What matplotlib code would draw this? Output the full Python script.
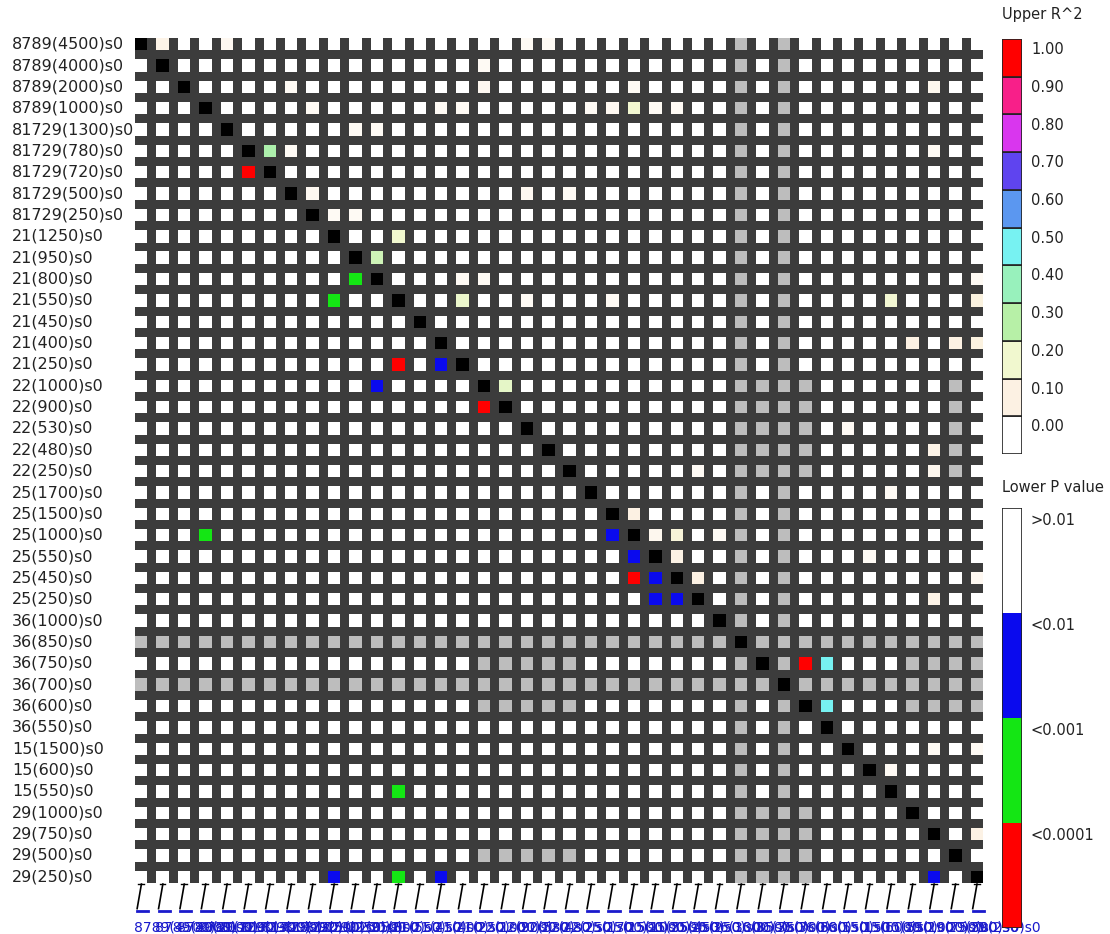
import matplotlib
matplotlib.use('Agg')  # no display in the sandbox
import matplotlib.pyplot as plt
from matplotlib.patches import Rectangle
from matplotlib.collections import PatchCollection
from matplotlib.colors import LinearSegmentedColormap
from matplotlib import transforms

# Marker names (rows top to bottom, columns left to right)
markers = [
    '8789(4500)s0', '8789(4000)s0', '8789(2000)s0', '8789(1000)s0',
    '81729(1300)s0', '81729(780)s0', '81729(720)s0', '81729(500)s0', '81729(250)s0',
    '21(1250)s0', '21(950)s0', '21(800)s0', '21(550)s0', '21(450)s0', '21(400)s0', '21(250)s0',
    '22(1000)s0', '22(900)s0', '22(530)s0', '22(480)s0', '22(250)s0',
    '25(1700)s0', '25(1500)s0', '25(1000)s0', '25(550)s0', '25(450)s0', '25(250)s0',
    '36(1000)s0', '36(850)s0', '36(750)s0', '36(700)s0', '36(600)s0', '36(550)s0',
    '15(1500)s0', '15(600)s0', '15(550)s0',
    '29(1000)s0', '29(750)s0', '29(500)s0', '29(250)s0',
]

# Upper triangle: R^2 values that stand out (row, col, r2)
r2_cells = [
    (5, 6, 0.33), (9, 12, 0.20), (10, 11, 0.26), (12, 15, 0.21), (16, 17, 0.22),
    (3, 23, 0.19), (12, 35, 0.18), (29, 31, 1.00), (29, 32, 0.50), (31, 32, 0.50),
    (23, 25, 0.15), (22, 23, 0.10), (24, 25, 0.09), (25, 26, 0.10),
    (14, 36, 0.10), (14, 38, 0.10), (14, 39, 0.11), (12, 39, 0.12),
    (0, 1, 0.08), (19, 37, 0.08), (26, 37, 0.08), (37, 39, 0.09), (20, 37, 0.06),
]

# Upper triangle: faint R^2 (row, col, r2)
r2_faint = [
    (0, 4, 0.05), (2, 7, 0.04), (3, 8, 0.04), (4, 10, 0.04), (4, 11, 0.04),
    (5, 7, 0.04), (7, 8, 0.05), (8, 9, 0.04), (8, 10, 0.04), (0, 18, 0.04),
    (0, 19, 0.04), (1, 16, 0.04), (2, 16, 0.05), (2, 23, 0.04), (3, 14, 0.04),
    (3, 15, 0.04), (3, 21, 0.04), (3, 22, 0.05), (3, 24, 0.04), (3, 25, 0.04),
    (7, 18, 0.05), (7, 20, 0.04), (11, 15, 0.04), (11, 16, 0.04), (12, 18, 0.04),
    (12, 22, 0.04), (18, 33, 0.04), (21, 35, 0.04), (23, 24, 0.06), (24, 34, 0.04),
    (33, 37, 0.04), (33, 39, 0.04), (2, 37, 0.06), (11, 39, 0.04), (25, 39, 0.05),
    (20, 26, 0.04), (23, 27, 0.04), (34, 35, 0.04), (5, 37, 0.04),
]

# Lower triangle: P value class (row, col, class) 1: <0.01, 2: <0.001, 3: <0.0001
p_cells = [
    (6, 5, 3), (11, 10, 2), (12, 9, 2), (15, 12, 3), (15, 14, 1), (16, 11, 1),
    (17, 16, 3), (23, 3, 2), (23, 22, 1), (24, 23, 1), (25, 23, 3), (25, 24, 1),
    (26, 24, 1), (26, 25, 1), (35, 12, 2), (39, 9, 1), (39, 12, 2), (39, 14, 1),
    (39, 37, 1),
]

# Pairs without data (drawn grey, both triangles)
missing_markers = [28, 30]
missing_rows_a = [29, 31]
missing_cols_a = [36, 37, 38, 39]
missing_rows_b = [16, 17, 18, 19, 20]
missing_cols_b = [29, 31, 38]

# Legends
r2_ticks = [0.0, 0.1, 0.2, 0.3, 0.4, 0.5, 0.6, 0.7, 0.8, 0.9, 1.0]
r2_colors = ['#ffffff', '#fcf1e2', '#f1f8cf', '#b6f0a6', '#98f1bc', '#78f4f2',
             '#5b97f0', '#5d44ef', '#d936ee', '#f8208c', '#ff0000']
p_labels = ['<0.0001', '<0.001', '<0.01', '>0.01']   # bottom to top
p_colors = ['#ff0000', '#14e614', '#0a0aee', '#ffffff']

n = len(markers)
r2 = [[0.0] * n for _ in range(n)]
for r, c, v in r2_cells + r2_faint:
    r2[r][c] = v
pcls = [[0] * n for _ in range(n)]
for r, c, k in p_cells:
    pcls[r][c] = k
missing = set()
for m in missing_markers:
    for k in range(n):
        missing.add((m, k))
        missing.add((k, m))
for rows, cols in [(missing_rows_a, missing_cols_a), (missing_rows_b, missing_cols_b)]:
    for r in rows:
        for c in cols:
            missing.add((r, c))
            missing.add((c, r))

cmap = LinearSegmentedColormap.from_list('ld', list(zip(r2_ticks, r2_colors)))
p_class_colors = {0: '#ffffff', 1: p_colors[2], 2: p_colors[1], 3: p_colors[0]}

W, H = 1110, 934
fig = plt.figure(figsize=(W / 100, H / 100), dpi=100)
fig.patch.set_facecolor('white')

sq = 0.58                       # square size, cell pitch is 1
ext = n - 1 + sq
ax = fig.add_axes([135 / W, 1 - 883 / H, 848 / W, 845 / H])
ax.set_xlim(0, ext)
ax.set_ylim(ext, 0)
ax.set_facecolor('#3c3c3c')
ax.set_xticks([])
ax.set_yticks([])
for s in ax.spines.values():
    s.set_visible(False)

patches, colors = [], []
for r in range(n):
    for c in range(n):
        if r == c:
            col = '#000000'
        elif (r, c) in missing:
            col = '#bdbdbd'
        elif r < c:
            col = cmap(r2[r][c])
        else:
            col = p_class_colors[pcls[r][c]]
        patches.append(Rectangle((c, r), sq, sq))
        colors.append(col)
ax.add_collection(PatchCollection(patches, facecolors=colors, edgecolors='none'))

# row labels
lab_tr = transforms.blended_transform_factory(fig.transFigure, ax.transData)
for r, name in enumerate(markers):
    ax.text(12 / W, r + sq / 2, name, transform=lab_tr, ha='left', va='center',
            fontsize=11.5, color='#222222')

# position connectors and column labels under the grid
for c, name in enumerate(markers):
    ax.plot([c + 0.15, c + 0.42], [ext + 0.05, ext + 0.05], color='black', lw=1, clip_on=False)
    ax.plot([c + 0.3, c + 0.1], [ext + 0.05, ext + 1.2], color='black', lw=1.2, clip_on=False)
    ax.plot([c + 0.1, c + 0.62], [ext + 1.33, ext + 1.33], color='#1a1acc', lw=2, clip_on=False)
    ax.text(c - 0.05, ext + 2.08, name, ha='left', va='center', fontsize=10,
            color='#1a1acc', clip_on=False)

# Upper R^2 legend
cax = fig.add_axes([1002 / W, 1 - 454 / H, 20 / W, 415 / H])
cax.set_xlim(0, 1)
cax.set_ylim(0, len(r2_ticks))
cax.axis('off')
for k, v in enumerate(r2_ticks):
    cax.add_patch(Rectangle((0, k), 1, 1, facecolor=cmap(v), edgecolor='#222222', lw=1.2))
    cax.text(1.45, k + 0.72, f'{v:.2f}', ha='left', va='center', fontsize=10.5,
             color='#222222', transform=cax.transData, clip_on=False)
fig.text(1002 / W, 1 - 15 / H, 'Upper R^2', ha='left', va='center', fontsize=10.5, color='#222222')

# Lower P value legend
pax = fig.add_axes([1002 / W, 1 - 928 / H, 20 / W, 420 / H])
pax.set_xlim(0, 1)
pax.set_ylim(0, len(p_labels))
pax.axis('off')
for k, (lab, col) in enumerate(zip(p_labels, p_colors)):
    pax.add_patch(Rectangle((0, k), 1, 1, facecolor=col, edgecolor='none'))
    pax.text(1.45, k + 0.88, lab, ha='left', va='center', fontsize=10.5,
             color='#222222', clip_on=False)
pax.add_patch(Rectangle((0, 0), 1, len(p_labels), facecolor='none', edgecolor='#222222', lw=1.2))
fig.text(1002 / W, 1 - 487 / H, 'Lower P value', ha='left', va='center', fontsize=10.5, color='#222222')

fig.savefig('out.png', dpi=100, facecolor='white')
